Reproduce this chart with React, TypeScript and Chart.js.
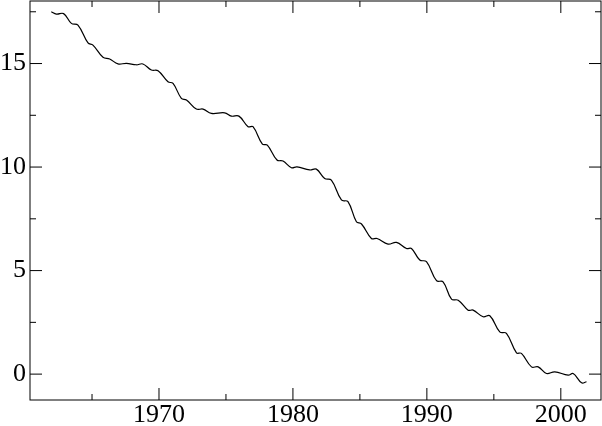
import { useEffect, useRef } from 'react';
import { Chart, registerables } from 'chart.js';

Chart.register(...registerables);

const years = [
  1961.96, 1962.34, 1962.88, 1963.46, 1963.95, 1964.7, 1965.07, 1965.82, 1966.32, 1966.94,
  1967.57, 1968.31, 1968.8, 1969.43, 1969.93, 1970.67, 1971.05, 1971.67, 1972.05, 1972.79,
  1973.29, 1973.91, 1974.9, 1975.41, 1975.97, 1976.65, 1977.02, 1977.72, 1978.09, 1978.81,
  1979.26, 1979.89, 1980.3, 1981.25, 1981.75, 1982.37, 1982.87, 1983.62, 1984.11, 1984.74,
  1985.12, 1985.86, 1986.28, 1987.1, 1987.73, 1988.48, 1988.85, 1989.47, 1989.97, 1990.72,
  1991.21, 1991.84, 1992.34, 1993.08, 1993.45, 1994.2, 1994.7, 1995.44, 1995.94, 1996.69,
  1997.06, 1997.81, 1998.31, 1998.93, 1999.55, 2000.55, 2000.92, 2001.55, 2001.92,
];
const values = [
  17.5, 17.39, 17.41, 16.94, 16.86, 16.0, 15.89, 15.3, 15.22, 14.98,
  15.01, 14.94, 14.98, 14.69, 14.65, 14.12, 14.04, 13.32, 13.24, 12.8,
  12.8, 12.59, 12.62, 12.46, 12.46, 11.95, 11.95, 11.11, 11.06, 10.34,
  10.29, 9.97, 10.01, 9.86, 9.9, 9.45, 9.37, 8.41, 8.33, 7.36,
  7.25, 6.55, 6.55, 6.28, 6.36, 6.07, 6.07, 5.51, 5.43, 4.51,
  4.46, 3.62, 3.57, 3.09, 3.09, 2.77, 2.82, 2.04, 1.97, 1.03,
  1.0, 0.35, 0.35, 0.03, 0.11, -0.05, 0.03, -0.42, -0.37,
];

const xTickLabels = [1970, 1980, 1990, 2000];
const xMinorTicks = [1965, 1975, 1985, 1995];
const yTickLabels = [0, 5, 10, 15];
const yMinorTicks = [2.5, 7.5, 12.5, 17.5];

const framePlugin = {
  id: 'frame',
  afterDraw(chart: any) {
    const { ctx, chartArea: a, scales } = chart;
    ctx.save();
    ctx.strokeStyle = '#000';
    ctx.lineWidth = 1;
    const seg = (x1: number, y1: number, x2: number, y2: number) => {
      ctx.beginPath();
      ctx.moveTo(x1, y1);
      ctx.lineTo(x2, y2);
      ctx.stroke();
    };
    const xt = (vals: number[], len: number) =>
      vals.forEach((v) => {
        const p = scales.x.getPixelForValue(v);
        seg(p, a.bottom, p, a.bottom - len);
        seg(p, a.top, p, a.top + len);
      });
    const yt = (vals: number[], len: number) =>
      vals.forEach((v) => {
        const p = scales.y.getPixelForValue(v);
        seg(a.left, p, a.left + len, p);
        seg(a.right, p, a.right - len, p);
      });
    xt(xTickLabels, 12);
    xt(xMinorTicks, 6);
    yt(yTickLabels, 12);
    yt(yMinorTicks, 6);
    ctx.strokeRect(a.left, a.top, a.right - a.left, a.bottom - a.top);
    ctx.restore();
  },
};

export default function App() {
  const ref = useRef<HTMLCanvasElement>(null);
  useEffect(() => {
    if (!ref.current) return;
    const font = { family: 'Liberation Serif', size: 26, lineHeight: 1 };
    const chart = new Chart(ref.current, {
      type: 'line',
      data: {
        datasets: [
          {
            data: years.map((x, i) => ({ x, y: values[i] })),
            borderColor: '#000',
            borderWidth: 1.2,
            pointRadius: 0,
            tension: 0.4,
            fill: false,
          },
        ],
      },
      options: {
        responsive: false,
        animation: false,
        layout: { padding: { top: 1, right: 1, left: 0, bottom: 0 } },
        plugins: { legend: { display: false }, tooltip: { enabled: false } },
        scales: {
          x: {
            type: 'linear',
            min: 1960.37,
            max: 2003.0,
            grid: { display: false, drawTicks: false, tickLength: 0 },
            border: { display: false },
            afterFit: (s: any) => {
              s.height = 26;
              s.paddingLeft = 0;
              s.paddingRight = 0;
              s.paddingTop = 0;
              s.paddingBottom = 0;
            },
            afterBuildTicks: (s: any) => {
              s.ticks = xTickLabels.map((v) => ({ value: v }));
            },
            ticks: {
              color: '#000',
              font,
              padding: 2,
              maxRotation: 0,
              autoSkip: false,
              callback: (v: any) => String(v),
            },
          },
          y: {
            type: 'linear',
            min: -1.25,
            max: 18.02,
            grid: { display: false, drawTicks: false, tickLength: 0 },
            border: { display: false },
            afterFit: (s: any) => {
              s.width = 30;
              s.paddingLeft = 0;
              s.paddingRight = 0;
              s.paddingTop = 0;
              s.paddingBottom = 0;
            },
            afterBuildTicks: (s: any) => {
              s.ticks = yTickLabels.map((v) => ({ value: v }));
            },
            ticks: {
              color: '#000',
              font,
              padding: 4,
              autoSkip: false,
              callback: (v: any) => String(v),
            },
          },
        },
      },
      plugins: [framePlugin],
    });
    return () => chart.destroy();
  }, []);
  return (
    <div style={{ position: 'fixed', left: 0, top: 0, width: 602, height: 426, background: '#fff' }}>
      <canvas ref={ref} width={602} height={426} />
    </div>
  );
}
